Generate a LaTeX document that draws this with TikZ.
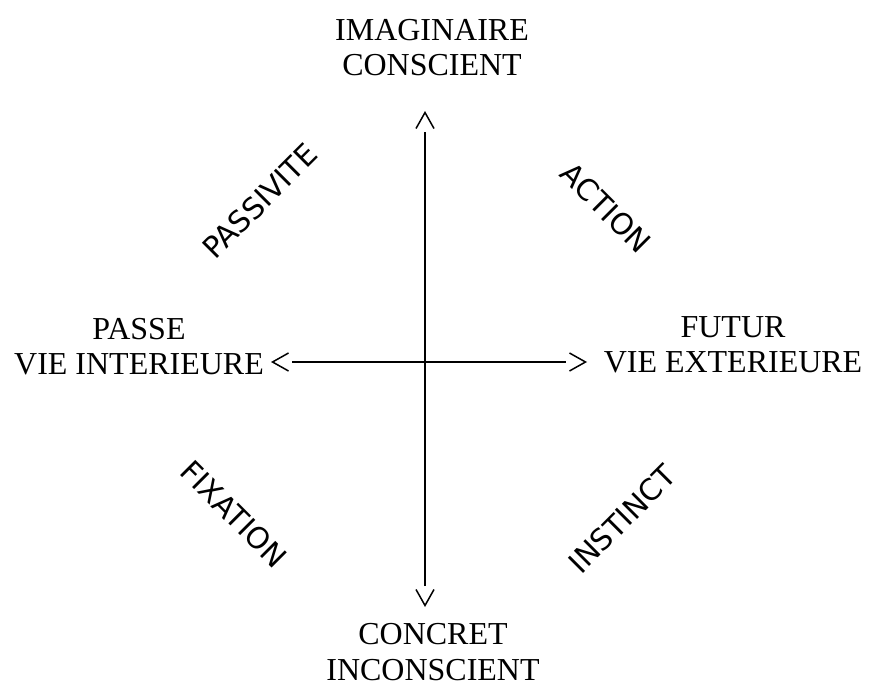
\documentclass[tikz,border=0pt]{standalone}
\usepackage{fontspec}
\setmainfont{Liberation Serif}
\newfontfamily\quadfont{DejaVu Sans}
\usetikzlibrary{arrows.meta}

\begin{document}
\begin{tikzpicture}[
    x=0.1mm, y=-0.1mm,
    >={Straight Barb[color=black, length=1.6mm, width=1.8mm, line width=0.15mm]},
    pole/.style={
        align=center,
        inner sep=0pt,
        font=\fontsize{9.1}{10}\selectfont
    },
    quadrant/.style={
        inner sep=0pt,
        font=\quadfont\fontsize{8.4}{9}\selectfont
    },
    barbs/.style={<->, draw=white, line width=0.2mm},
    axis/.style={line width=0.2mm, shorten <=2.1mm, shorten >=2.1mm}
]
\useasboundingbox (0,0) rectangle (869,684);

% Poles
\node[pole] (imag) at (432,48) {IMAGINAIRE\\CONSCIENT};
\node[pole] (concret) at (433,652) {CONCRET\\INCONSCIENT};
\node[pole] (passe) at (139,347) {PASSE\\VIE INTERIEURE};
\node[pole] (futur) at (733,345) {FUTUR\\VIE EXTERIEURE};

% Axis ends
\coordinate (north) at (425,111);
\coordinate (south) at (425,607);
\coordinate (west) at (271,362);
\coordinate (east) at (587,362);

% Axes, tips set apart from the lines
\draw[barbs] (south) -- (north);
\draw[barbs] (west) -- (east);
\draw[axis] (south) -- (north);
\draw[axis] (west) -- (east);

% Quadrants
\node[quadrant, rotate=45] (passivite) at (260,201) {PASSIVITE};
\node[quadrant, rotate=-45] (action) at (606,208) {ACTION};
\node[quadrant, rotate=-45] (fixation) at (234,514) {FIXATION};
\node[quadrant, rotate=45] (instinct) at (622,519) {INSTINCT};

\end{tikzpicture}
\end{document}
